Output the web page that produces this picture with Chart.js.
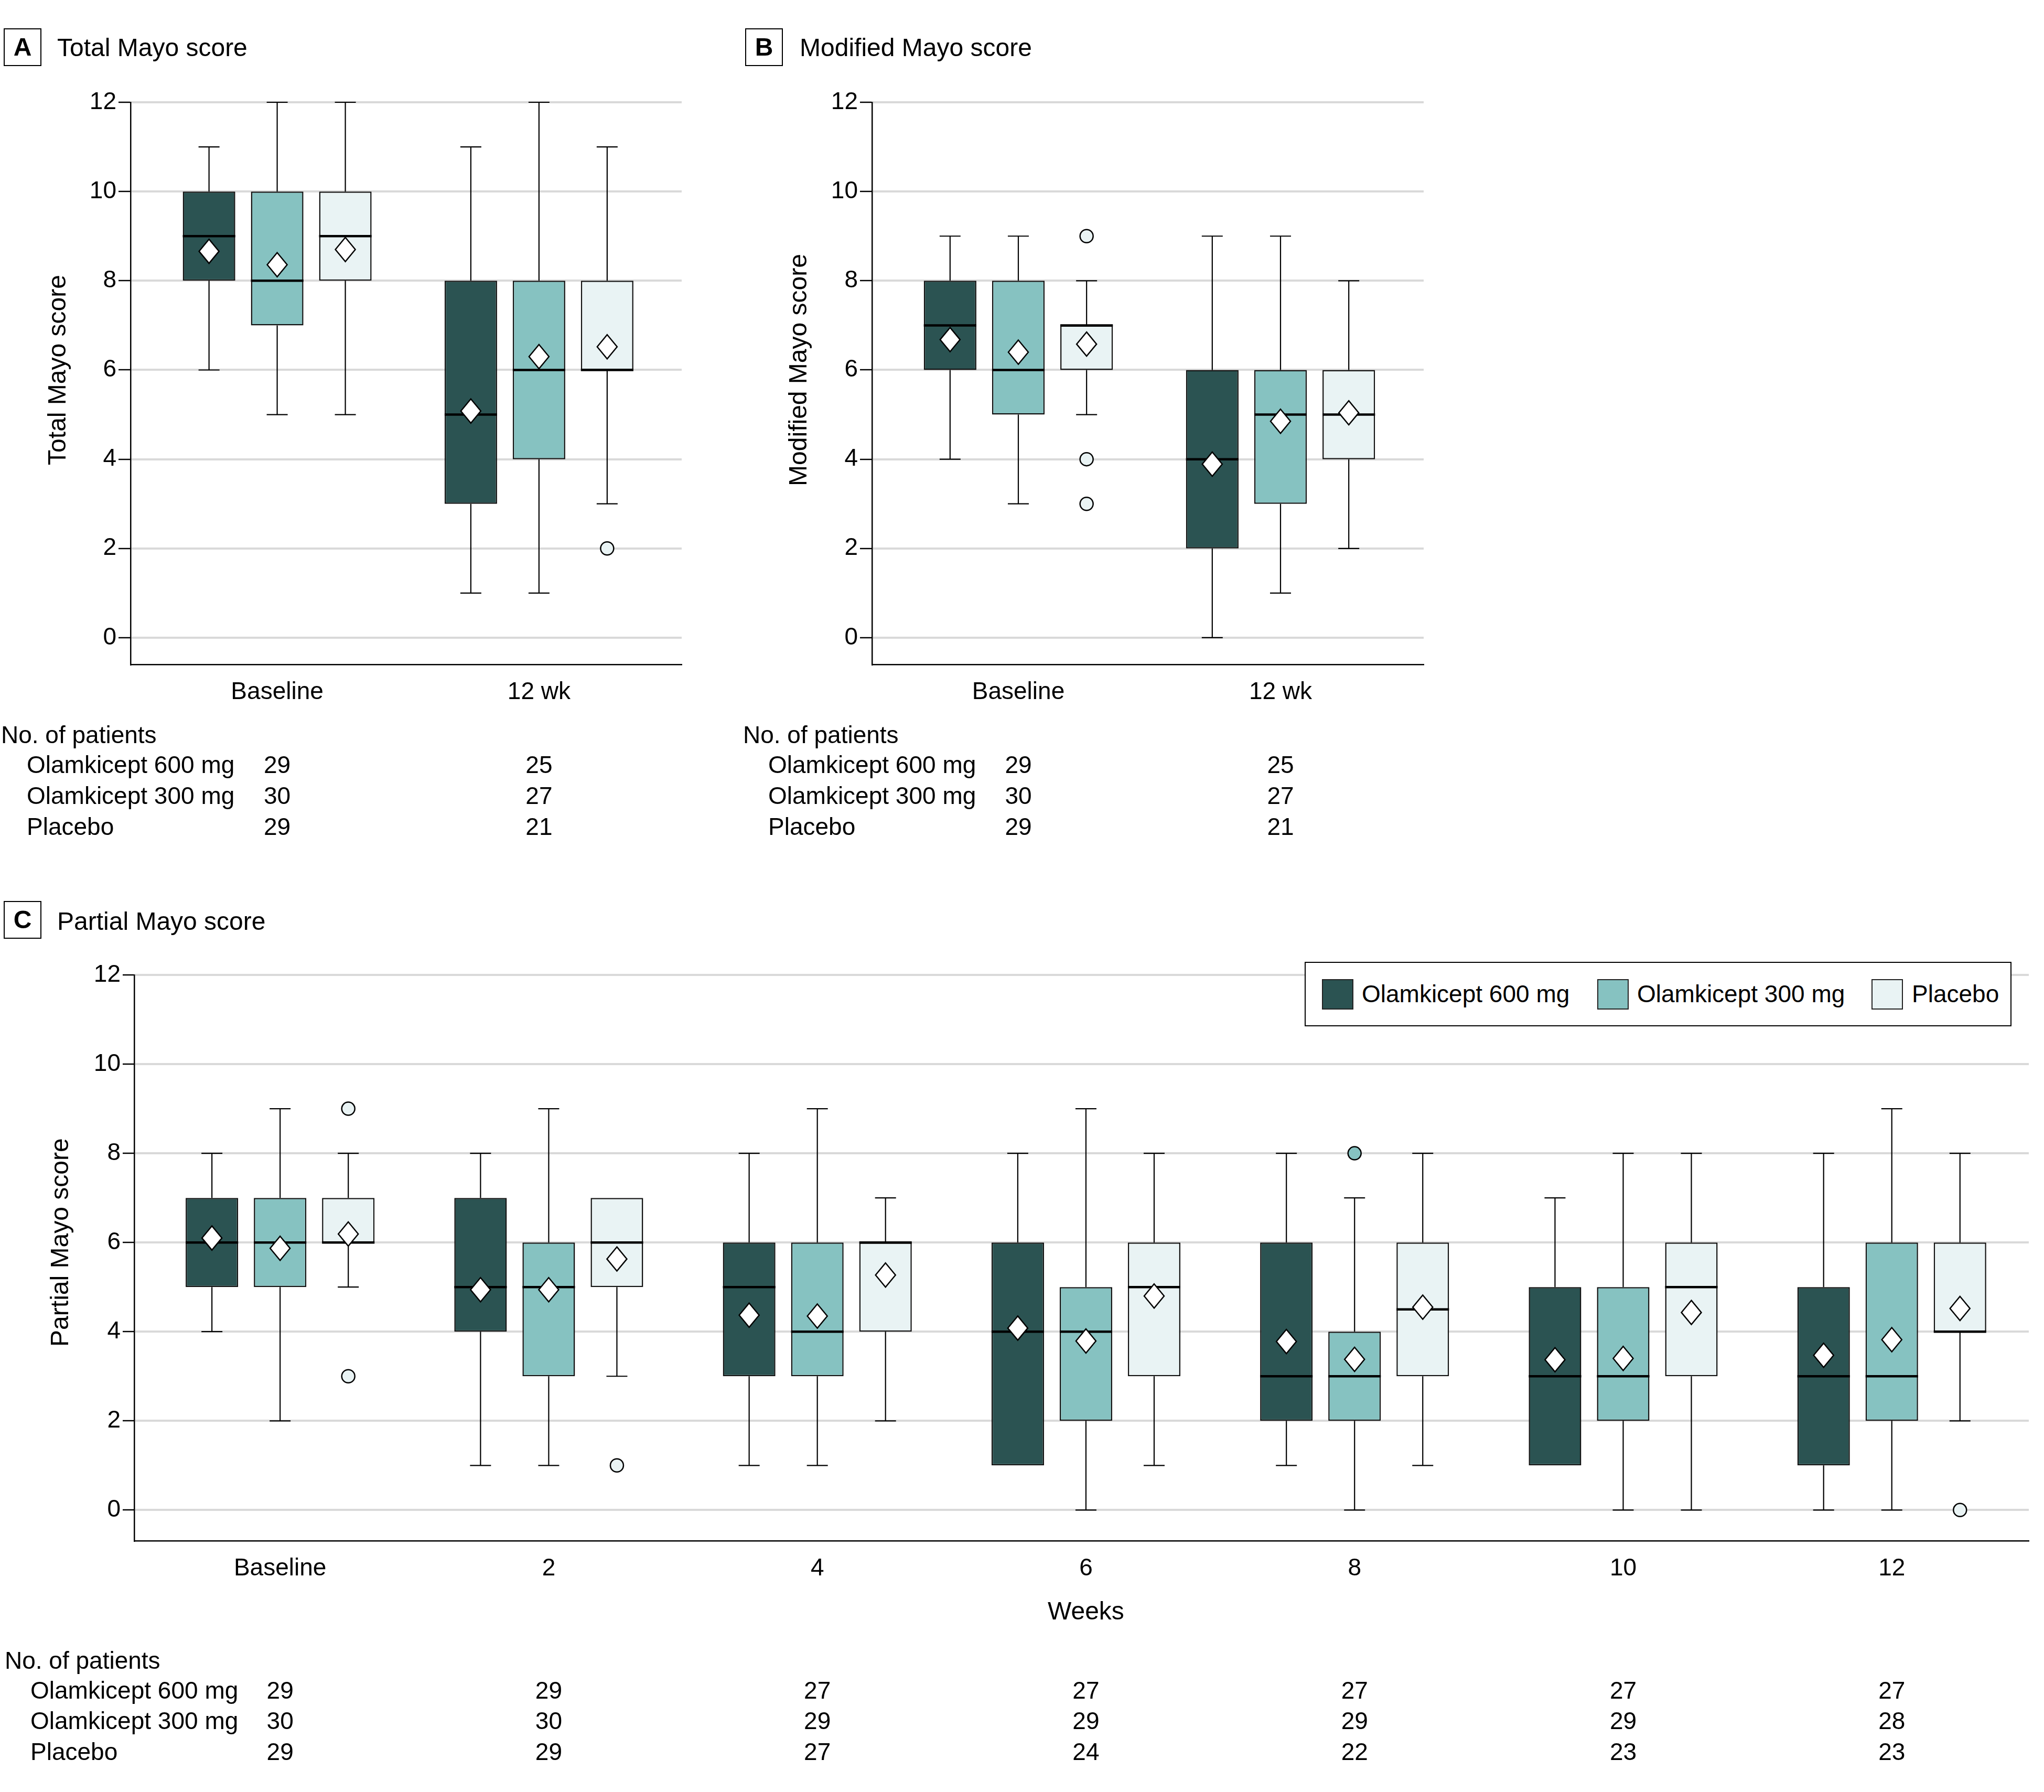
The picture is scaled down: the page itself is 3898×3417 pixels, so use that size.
<!DOCTYPE html>
<html>
<head>
<meta charset="utf-8">
<script src="https://cdn.jsdelivr.net/npm/chart.js@4.4.1/dist/chart.umd.min.js"></script>
<style>
body{margin:0;background:#fff;width:3898px;height:3417px;position:relative;overflow:hidden;font-family:'Liberation Sans',Arial,sans-serif;color:#000}
canvas{position:absolute}
.tag{position:absolute;width:68px;height:68px;border:2.5px solid #000;font-weight:bold;font-size:48px;line-height:68px;text-align:center}
.ttl{position:absolute;font-size:48px;line-height:56px;white-space:nowrap}
#legend{position:absolute;left:2488px;top:1834px;width:1344px;height:119px;border:2.5px solid #000;background:#fff}
.sw{position:absolute;top:31px;width:56px;height:54px;border:2px solid #222}
.lt{position:absolute;top:31px;font-size:46px;line-height:56px;white-space:nowrap}
</style>
</head>
<body>
<canvas id="cA" width="1340" height="1640" style="left:0;top:0"></canvas>
<canvas id="cB" width="1360" height="1640" style="left:1400px;top:0"></canvas>
<canvas id="cC" width="3898" height="1737" style="left:0;top:1680px"></canvas>

<div class="tag" style="left:7px;top:54px">A</div>
<div class="ttl" style="left:109px;top:63px">Total Mayo score</div>
<div class="tag" style="left:1421px;top:54px">B</div>
<div class="ttl" style="left:1525px;top:63px">Modified Mayo score</div>
<div class="tag" style="left:7px;top:1718px">C</div>
<div class="ttl" style="left:109px;top:1729px">Partial Mayo score</div>

<div id="legend">
  <div class="sw" style="left:31px;background:#2b5352"></div><div class="lt" style="left:107px">Olamkicept 600 mg</div>
  <div class="sw" style="left:556px;background:#86c2c1"></div><div class="lt" style="left:632px">Olamkicept 300 mg</div>
  <div class="sw" style="left:1079px;background:#e9f3f4"></div><div class="lt" style="left:1156px">Placebo</div>
</div>

<script>
const groups = ['Olamkicept 600 mg', 'Olamkicept 300 mg', 'Placebo'];
const fills = ['#2b5352', '#86c2c1', '#e9f3f4'];
const yTicks = [0, 2, 4, 6, 8, 10, 12];

// A: total Mayo score (one row per group, one column per visit)
const totalLabels = ['Baseline', '12 wk'];
const totalLow  = [[6, 1], [5, 1], [5, 3]];
const totalQ1   = [[8, 3], [7, 4], [8, 6]];
const totalMed  = [[9, 5], [8, 6], [9, 6]];
const totalQ3   = [[10, 8], [10, 8], [10, 8]];
const totalHigh = [[11, 11], [12, 12], [12, 11]];
const totalMean = [[8.66, 5.08], [8.36, 6.30], [8.70, 6.52]];
const totalOut  = [[[], []], [[], []], [[], [2]]];
const totalN    = [[29, 25], [30, 27], [29, 21]];

// B: modified Mayo score
const modLabels = ['Baseline', '12 wk'];
const modLow  = [[4, 0], [3, 1], [5, 2]];
const modQ1   = [[6, 2], [5, 3], [6, 4]];
const modMed  = [[7, 4], [6, 5], [7, 5]];
const modQ3   = [[8, 6], [8, 6], [7, 6]];
const modHigh = [[9, 9], [9, 9], [8, 8]];
const modMean = [[6.68, 3.89], [6.40, 4.85], [6.58, 5.04]];
const modOut  = [[[], []], [[], []], [[9, 4, 3], []]];
const modN    = [[29, 25], [30, 27], [29, 21]];

// C: partial Mayo score by week
const partLabels = ['Baseline', '2', '4', '6', '8', '10', '12'];
const partLow  = [[4, 1, 1, 1, 1, 1, 0], [2, 1, 1, 0, 0, 0, 0], [5, 3, 2, 1, 1, 0, 2]];
const partQ1   = [[5, 4, 3, 1, 2, 1, 1], [5, 3, 3, 2, 2, 2, 2], [6, 5, 4, 3, 3, 3, 4]];
const partMed  = [[6, 5, 5, 4, 3, 3, 3], [6, 5, 4, 4, 3, 3, 3], [6, 6, 6, 5, 4.5, 5, 4]];
const partQ3   = [[7, 7, 6, 6, 6, 5, 5], [7, 6, 6, 5, 4, 5, 6], [7, 7, 6, 6, 6, 6, 6]];
const partHigh = [[8, 8, 8, 8, 8, 7, 8], [9, 9, 9, 9, 7, 8, 9], [8, 7, 7, 8, 8, 8, 8]];
const partMean = [[6.10, 4.94, 4.37, 4.08, 3.78, 3.37, 3.47], [5.87, 4.94, 4.35, 3.79, 3.38, 3.40, 3.82], [6.19, 5.63, 5.27, 4.80, 4.55, 4.43, 4.52]];
const partOut  = [[[], [], [], [], [], [], []], [[], [], [], [], [8], [], []], [[9, 3], [1], [], [], [], [], [0]]];
const partN    = [[29, 29, 27, 27, 27, 27, 27], [30, 30, 29, 29, 29, 29, 28], [29, 29, 27, 24, 22, 23, 23]];

Chart.defaults.font.family = "'Liberation Sans', Arial, sans-serif";
Chart.defaults.font.size = 46;
Chart.defaults.color = '#000';

function panel(id, s, o) {
  const plug = {
    id: 'box_' + id,
    beforeDatasetsDraw(c) {
      const ctx = c.ctx, y = c.scales.y;
      ctx.save();
      ctx.strokeStyle = '#000';
      ctx.lineWidth = 2.2;
      groups.forEach((g, k) => c.getDatasetMeta(k).data.forEach((b, i) => {
        const x = b.x;
        ctx.beginPath();
        if (s.high[k][i] > s.q3[k][i]) {
          ctx.moveTo(x, y.getPixelForValue(s.q3[k][i]));
          ctx.lineTo(x, y.getPixelForValue(s.high[k][i]));
          ctx.moveTo(x - 20, y.getPixelForValue(s.high[k][i]));
          ctx.lineTo(x + 20, y.getPixelForValue(s.high[k][i]));
        }
        if (s.low[k][i] < s.q1[k][i]) {
          ctx.moveTo(x, y.getPixelForValue(s.q1[k][i]));
          ctx.lineTo(x, y.getPixelForValue(s.low[k][i]));
          ctx.moveTo(x - 20, y.getPixelForValue(s.low[k][i]));
          ctx.lineTo(x + 20, y.getPixelForValue(s.low[k][i]));
        }
        ctx.stroke();
      }));
      ctx.restore();
    },
    afterDatasetsDraw(c) {
      const ctx = c.ctx, y = c.scales.y;
      ctx.save();
      ctx.strokeStyle = '#000';
      groups.forEach((g, k) => c.getDatasetMeta(k).data.forEach((b, i) => {
        const x = b.x, w = b.width;
        // median
        const m = y.getPixelForValue(s.med[k][i]);
        ctx.lineWidth = 4.5;
        ctx.beginPath();
        ctx.moveTo(x - w / 2, m);
        ctx.lineTo(x + w / 2, m);
        ctx.stroke();
        // mean
        const my = y.getPixelForValue(s.mean[k][i]);
        ctx.lineWidth = 2.5;
        ctx.fillStyle = '#fff';
        ctx.beginPath();
        ctx.moveTo(x, my - 23);
        ctx.lineTo(x + 19, my);
        ctx.lineTo(x, my + 23);
        ctx.lineTo(x - 19, my);
        ctx.closePath();
        ctx.fill();
        ctx.stroke();
        // outliers
        ctx.fillStyle = fills[k];
        s.out[k][i].forEach(v => {
          ctx.beginPath();
          ctx.arc(x, y.getPixelForValue(v), 12.5, 0, Math.PI * 2);
          ctx.fill();
          ctx.stroke();
        });
      }));
      ctx.restore();
    },
    afterDraw(c) {
      const ctx = c.ctx, x = c.scales.x, y = c.scales.y;
      ctx.save();
      ctx.fillStyle = '#000';
      ctx.textBaseline = 'middle';
      ctx.font = "48px 'Liberation Sans', Arial, sans-serif";
      ctx.save();
      ctx.translate(o.titleX, y.getPixelForValue(6));
      ctx.rotate(-Math.PI / 2);
      ctx.textAlign = 'center';
      ctx.fillText(o.title, 0, 0);
      ctx.restore();
      if (o.weeksY) {
        ctx.textAlign = 'center';
        ctx.fillText('Weeks', x.getPixelForValue(4), o.weeksY);
      }
      ctx.font = "46px 'Liberation Sans', Arial, sans-serif";
      ctx.textAlign = 'left';
      ctx.fillText('No. of patients', o.headX, o.headY);
      groups.forEach((g, k) => {
        ctx.textAlign = 'left';
        ctx.fillText(g, o.rowX, o.rowY[k]);
        ctx.textAlign = 'center';
        s.n[k].forEach((n, i) => ctx.fillText(String(n), x.getPixelForValue(i + 1), o.rowY[k]));
      });
      ctx.restore();
    }
  };

  return new Chart(document.getElementById(id), {
    type: 'bar',
    data: {
      datasets: groups.map((g, k) => ({
        label: g,
        data: s.labels.map((l, i) => ({x: i + 1, y: [s.q1[k][i], s.q3[k][i]]})),
        backgroundColor: fills[k],
        borderColor: '#111',
        borderWidth: 2.5,
        borderSkipped: false,
        categoryPercentage: o.cat,
        barPercentage: 0.77
      }))
    },
    options: {
      responsive: false,
      animation: false,
      devicePixelRatio: 1,
      layout: {padding: o.pad},
      plugins: {legend: {display: false}, tooltip: {enabled: false}},
      scales: {
        x: {
          type: 'linear', bounds: 'data', min: o.xMin, max: o.xMax, offset: false,
          afterBuildTicks: a => { a.ticks = s.labels.map((l, i) => ({value: i + 1})); },
          afterFit: a => { a.height = 100; },
          ticks: {callback: v => s.labels[v - 1], autoSkip: false, maxRotation: 0, padding: 26},
          grid: {display: false, drawTicks: false},
          border: {color: '#000', width: 2.5}
        },
        y: {
          bounds: 'data', min: o.yMin, max: 12,
          afterBuildTicks: a => { a.ticks = yTicks.map(v => ({value: v})); },
          afterFit: a => { a.width = o.yw; },
          ticks: {padding: 4, autoSkip: false},
          grid: {color: '#d9d9d9', lineWidth: 4, tickColor: '#000', tickWidth: 2.5, tickLength: o.tl},
          border: {color: '#000', width: 2.5}
        }
      }
    },
    plugins: [plug]
  });
}

panel('cA', {labels: totalLabels, low: totalLow, q1: totalQ1, med: totalMed, q3: totalQ3, high: totalHigh, mean: totalMean, out: totalOut, n: totalN},
  {pad: {left: 100, right: 40, top: 195, bottom: 273}, yw: 149, tl: 23, xMin: 0.44, xMax: 2.545, yMin: -0.6, cat: 0.781,
   title: 'Total Mayo score', titleX: 112, headX: 2, headY: 1404, rowX: 51, rowY: [1461, 1520, 1579]});

panel('cB', {labels: modLabels, low: modLow, q1: modQ1, med: modMed, q3: modQ3, high: modHigh, mean: modMean, out: modOut, n: modN},
  {pad: {left: 100, right: 45, top: 195, bottom: 273}, yw: 163, tl: 23, xMin: 0.442, xMax: 2.546, yMin: -0.6, cat: 0.781,
   title: 'Modified Mayo score', titleX: 125, headX: 17, headY: 1404, rowX: 65, rowY: [1461, 1520, 1579]});

panel('cC', {labels: partLabels, low: partLow, q1: partQ1, med: partMed, q3: partQ3, high: partHigh, mean: partMean, out: partOut, n: partN},
  {pad: {left: 100, right: 29, top: 179, bottom: 379}, yw: 156, tl: 22, xMin: 0.457, xMax: 7.51, yMin: -0.69, cat: 0.7615,
   title: 'Partial Mayo score', titleX: 117, weeksY: 1395, headX: 9, headY: 1489, rowX: 58, rowY: [1546, 1604, 1663]});
</script>
</body>
</html>
